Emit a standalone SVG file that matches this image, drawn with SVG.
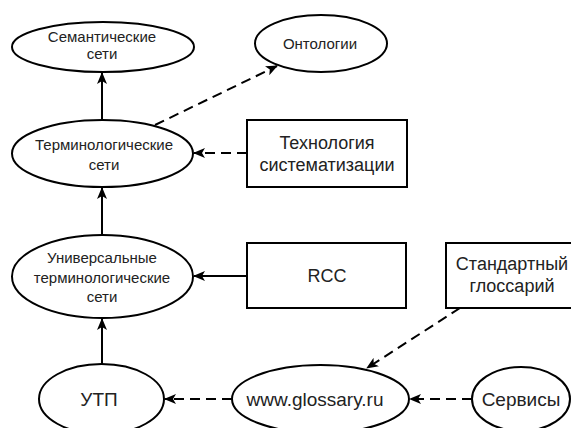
<svg xmlns="http://www.w3.org/2000/svg" width="571" height="428" viewBox="0 0 571 428">
  <style>
    .shape { fill: #ffffff; stroke: #000000; stroke-width: 2; }
    .lbl { font-family: "Liberation Sans", Arial, sans-serif; fill: #222222; text-anchor: middle; }
    .s15 { font-size: 15px; }
    .s18 { font-size: 18px; }
    .s19 { font-size: 19px; }
    .edge { fill: none; stroke: #000000; stroke-width: 2; }
    .dash { stroke-dasharray: 10 6; }
  </style>
  <defs>
    <marker id="arrow" viewBox="0 0 12 10" refX="11" refY="5" markerWidth="12" markerHeight="10" markerUnits="userSpaceOnUse" orient="auto">
      <path d="M0,0 L12,5 L0,10 L3,5 Z" fill="#000000"/>
    </marker>
  </defs>

  <g id="connectors">
    <line class="edge" x1="102" y1="120" x2="102" y2="73" marker-end="url(#arrow)"/>
    <line class="edge" x1="102" y1="235" x2="102" y2="188" marker-end="url(#arrow)"/>
    <line class="edge" x1="102" y1="364" x2="102" y2="319" marker-end="url(#arrow)"/>
    <line class="edge dash" x1="247" y1="153" x2="194" y2="153" marker-end="url(#arrow)"/>
    <line class="edge" x1="247" y1="276" x2="194" y2="276" marker-end="url(#arrow)"/>
    <line class="edge dash" x1="155" y1="125" x2="277" y2="66" marker-end="url(#arrow)"/>
    <line class="edge dash" x1="460" y1="308" x2="367" y2="368" marker-end="url(#arrow)"/>
    <line class="edge dash" x1="232" y1="399" x2="165" y2="399" marker-end="url(#arrow)"/>
    <line class="edge dash" x1="472" y1="399" x2="410" y2="399" marker-end="url(#arrow)"/>
  </g>

  <g id="semantic-nets">
    <ellipse class="shape" cx="103" cy="47" rx="91" ry="25"/>
    <text class="lbl s15" x="102" y="42">Семантические</text>
    <text class="lbl s15" x="102" y="59">сети</text>
  </g>

  <g id="ontologies">
    <ellipse class="shape" cx="321" cy="43.5" rx="66" ry="28.5"/>
    <text class="lbl s15" x="320" y="49">Онтологии</text>
  </g>

  <g id="term-nets">
    <ellipse class="shape" cx="102.5" cy="153.5" rx="90.5" ry="33.5"/>
    <text class="lbl s15" x="104" y="150">Терминологические</text>
    <text class="lbl s15" x="104" y="170">сети</text>
  </g>

  <g id="systematization">
    <rect class="shape" x="247" y="120" width="160" height="67"/>
    <text class="lbl s18" x="327" y="149">Технология</text>
    <text class="lbl s18" x="327" y="171">систематизации</text>
  </g>

  <g id="universal-nets">
    <ellipse class="shape" cx="102.5" cy="276.5" rx="90.5" ry="41.5"/>
    <text class="lbl s15" x="102" y="263">Универсальные</text>
    <text class="lbl s15" x="102" y="283">терминологические</text>
    <text class="lbl s15" x="102" y="302">сети</text>
  </g>

  <g id="rcc">
    <rect class="shape" x="247" y="243" width="159" height="65"/>
    <text class="lbl s18" x="327" y="282">RCC</text>
  </g>

  <g id="standard-glossary">
    <rect class="shape" x="446" y="243" width="132" height="65"/>
    <text class="lbl s18" x="512" y="270">Стандартный</text>
    <text class="lbl s18" x="512" y="292">глоссарий</text>
  </g>

  <g id="utp">
    <ellipse class="shape" cx="101.5" cy="399" rx="62.5" ry="35"/>
    <text class="lbl s19" x="99" y="406">УТП</text>
  </g>

  <g id="glossary-ru">
    <ellipse class="shape" cx="320.5" cy="399" rx="88.5" ry="34"/>
    <text class="lbl s19" x="315" y="406">www.glossary.ru</text>
  </g>

  <g id="services">
    <ellipse class="shape" cx="521" cy="399" rx="49" ry="32"/>
    <text class="lbl s19" x="521" y="406">Сервисы</text>
  </g>
</svg>
